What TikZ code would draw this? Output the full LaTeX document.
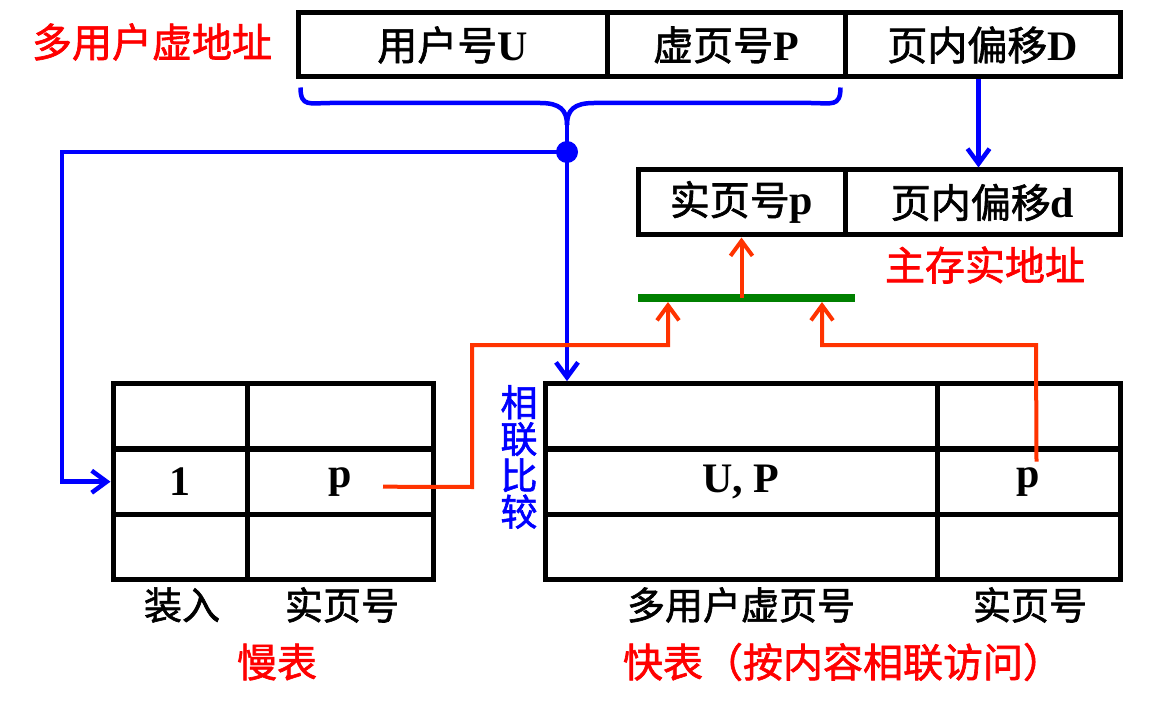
\documentclass[tikz,border=0pt]{standalone}
\usepackage{fontspec}
\setmainfont{Liberation Serif}
\newfontfamily\cjk[FakeBold=1.6]{Noto Sans CJK SC}
\usetikzlibrary{arrows.meta,positioning,calc}
\definecolor{addrblue}{RGB}{0,0,255}
\definecolor{addrred}{RGB}{255,0,0}
\definecolor{hitorange}{RGB}{255,51,0}
\definecolor{bargreen}{RGB}{0,128,0}

\tikzset{
  cell/.style={draw,line width=5pt,inner sep=0pt,minimum height=65.3pt,
    font=\fontsize{42}{46}\selectfont},
  lbl/.style={inner sep=0pt,font=\fontsize{38}{42}\selectfont\cjk},
  title/.style={inner sep=0pt,text=addrred,font=\fontsize{40}{44}\selectfont\cjk},
  bluelink/.style={addrblue,line width=4.5pt},
  hitlink/.style={hitorange,line width=4pt},
  tip/.style={-{Straight Barb[length=15pt,width=22pt]}}
}

\begin{document}
\begin{tikzpicture}[x=1pt,y=-1pt]
\useasboundingbox (0,0) rectangle (1162,711);

% virtual address
\node[cell,minimum width=309pt,minimum height=64pt] (userU) at (452.5,45) {{\cjk\fontsize{40}{44}\selectfont 用户号}\textbf{U}};
\node[cell,minimum width=238pt,minimum height=64pt] (virtP) at (726,45) {{\cjk\fontsize{40}{44}\selectfont 虚页号}\textbf{P}};
\node[cell,minimum width=275pt,minimum height=64pt] (offD) at (982.5,45) {{\cjk\fontsize{40}{44}\selectfont 页内偏移}\textbf{D}};
\node[title] (vaddr) at (152,42) {多用户虚地址};

% real address
\node[cell,minimum width=207pt,minimum height=65pt] (realp) at (741.5,202.5) {{\cjk\fontsize{40}{44}\selectfont 实页号}\textbf{p}};
\node[cell,minimum width=275pt,minimum height=65pt] (offd) at (982.5,202.5) {{\cjk\fontsize{40}{44}\selectfont 页内偏移}\textbf{d}};
\node[title] (raddr) at (985,265) {主存实地址};

% slow table
\node[cell,minimum width=134pt] (slowA1) at (180,416.3) {};
\node[cell,minimum width=186pt] (slowB1) at (340,416.3) {};
\node[cell,minimum width=134pt] (slowA2) at (180,481.7) {\textbf{1}};
\node[cell,minimum width=186pt] (slowB2) at (340,481.7) {\textbf{p}};
\node[cell,minimum width=134pt] (slowA3) at (180,547) {};
\node[cell,minimum width=186pt] (slowB3) at (340,547) {};
\node[lbl] (slowLoad) at (182,605) {装入};
\node[lbl] (slowPage) at (342,605) {实页号};
\node[title] (slowName) at (277,662) {慢表};

% fast table
\node[cell,minimum width=392pt] (fastA1) at (741,416.3) {};
\node[cell,minimum width=183pt] (fastB1) at (1028.5,416.3) {};
\node[cell,minimum width=392pt] (fastA2) at (741,481.7) {\textbf{U, P}};
\node[cell,minimum width=183pt] (fastB2) at (1028.5,481.7) {\textbf{p}};
\node[cell,minimum width=392pt] (fastA3) at (741,547) {};
\node[cell,minimum width=183pt] (fastB3) at (1028.5,547) {};
\node[lbl] (fastKey) at (741,605) {多用户虚页号};
\node[lbl] (fastPage) at (1030,605) {实页号};
\node[title] (fastName) at (843,662) {快表（按内容相联访问）};
\node[lbl,text=addrblue,align=center,font=\fontsize{37}{36.5}\selectfont\cjk] (assoc) at (519,457) {相\\联\\比\\较};

% brace and blue links
\coordinate (hub) at (567,152);
\coordinate (cusp) at (567,125);
\coordinate (turnL) at (62,152);
\draw[bluelink] ($(userU.south west)+(5,8)$) .. controls +(0,20) and (310,103) .. (330,103) -- (540,103)
  .. controls (560,103) and (567,110) .. (cusp);
\draw[bluelink] ($(virtP.south east)+(-7,8)$) .. controls +(0,20) and (831,103) .. (811,103) -- (594,103)
  .. controls (574,103) and (567,110) .. (cusp);
\fill[addrblue] (hub) circle (11);
\draw[bluelink] (cusp) -- (hub);
\draw[bluelink,tip] (hub) -- (turnL) |- (slowA2.west);
\draw[bluelink,tip] (hub) -- (hub |- fastA1.north);
\draw[bluelink,tip] ($(offD.south)+(-4,0)$) -- ($(offd.north)+(-4,0)$);

% hit lines
\coordinate (barL) at (638,298);
\coordinate (barR) at (855,298);
\coordinate (slowOut) at ($(slowB2.center)+(43,5)$);
\coordinate (fastOut) at ($(fastB2.center)+(8,-20)$);
\draw[bargreen,line width=8pt] (barL) -- (barR);
\draw[hitlink,tip] (realp |- barL) -- (realp.south);
\draw[hitlink,tip] (slowOut) -- (472,487) -- (472,345) -- (668,345) -- (668,302);
\draw[hitlink,tip] (fastOut) -- (1036,345) -- (822,345) -- (822,302);
\end{tikzpicture}
\end{document}
